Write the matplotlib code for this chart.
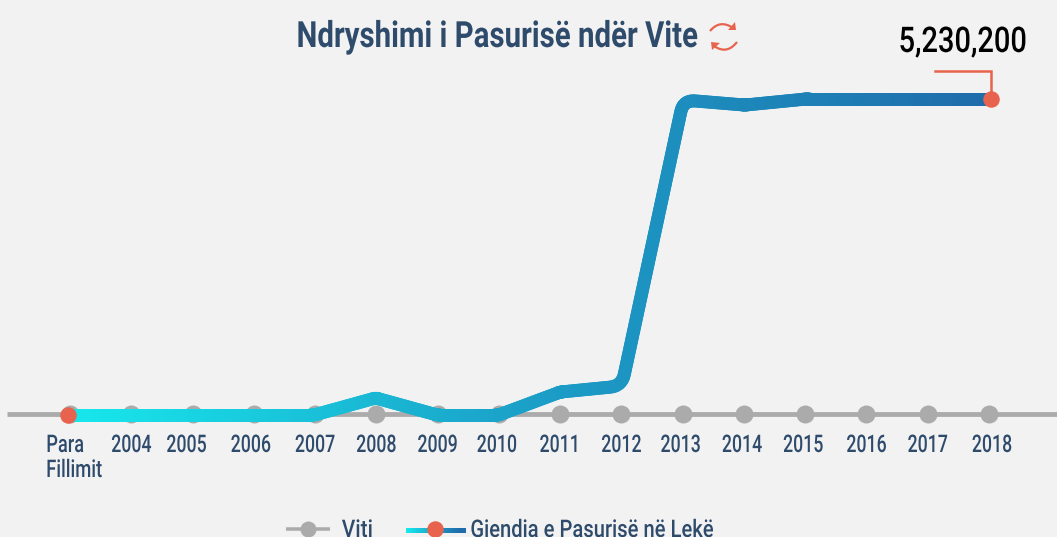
import numpy as np
import matplotlib
matplotlib.use('Agg')
import matplotlib.pyplot as plt
from matplotlib.collections import LineCollection
from matplotlib.colors import LinearSegmentedColormap
from matplotlib.patches import PathPatch, Polygon
from matplotlib.path import Path
from matplotlib.patheffects import AbstractPathEffect
from matplotlib.transforms import Affine2D

# data
labels = ['Para\nFillimit', '2004', '2005', '2006', '2007', '2008', '2009', '2010',
          '2011', '2012', '2013', '2014', '2015', '2016', '2017', '2018']
viti = [0] * 16
pasuria = [0, 0, 0, 0, 0, 282000, 0, 0, 380000, 480000, 5214000, 5130000,
           5230200, 5230200, 5230200, 5230200]
top_label = '5,230,200'

W, H = 1057, 537
BG = '#F2F2F2'
NAVY = '#2F4B6C'
RED = '#E8634D'
GRAY = '#ABABAB'
grad = LinearSegmentedColormap.from_list('g', ['#17E8EC', '#1BA0C8', '#1F6CAB'])
FONT = ['Roboto', 'DejaVu Sans']


# no condensed font here, so squeeze the glyphs around the middle of the text
class Narrow(AbstractPathEffect):
    def __init__(self, f):
        super().__init__()
        self.f = f

    def draw_path(self, renderer, gc, tpath, affine, rgbFace=None):
        e = tpath.get_extents()
        mid = (e.x0 + e.x1) / 2
        squeeze = Affine2D().translate(-mid, 0).scale(self.f, 1).translate(mid, 0)
        renderer.draw_path(gc, tpath, squeeze + affine, rgbFace)


def px(n):
    return n * 72 / 100


fig = plt.figure(figsize=(W / 100, H / 100), dpi=100, facecolor=BG)

# grey series, x: 0 -> 70px, 15 -> 989px, y: 0 -> 413.7px
gx = np.arange(16)
ax = fig.add_axes([0, 0, 1, 1])
sx = (989 - 70) / 15
ax.set_xlim(-70 / sx, (W - 70) / sx)
ax.set_ylim(-(H - 413.7), 413.7)
ax.axis('off')
ax.plot([(7 - 70) / sx, (W - 70) / sx], [0, 0], color=GRAY, lw=px(4.8), solid_capstyle='butt')
ax.scatter(gx, viti, s=px(18) ** 2, color=GRAY, linewidths=0, zorder=3)

# money series on its own scale, 0 -> (68, 415), max -> (991, 99)
ax2 = fig.add_axes([0, 0, 1, 1])
ax2.patch.set_alpha(0)
ax2.axis('off')
sx2 = (991 - 68) / 15
sy2 = (415 - 99) / 5230200
ax2.set_xlim(-68 / sx2, (W - 68) / sx2)
ax2.set_ylim(-(H - 415) / sy2, 415 / sy2)

# round the two sharp corners and cut the line in pieces for the gradient
pts = ax2.transData.transform(np.column_stack([gx, pasuria]))
path = [pts[0]]
for a, b, c in zip(pts[:-2], pts[1:-1], pts[2:]):
    d1, d2 = a - b, c - b
    sharp = np.dot(d1, d2) / (np.hypot(*d1) * np.hypot(*d2) + 1e-9) > -0.5
    cut = 12 if sharp else 3
    cut = min(cut, np.hypot(*d1) / 2, np.hypot(*d2) / 2)
    p1 = b + d1 / np.hypot(*d1) * cut
    p2 = b + d2 / np.hypot(*d2) * cut
    for t in np.linspace(0, 1, 10):
        path.append((1 - t) ** 2 * p1 + 2 * t * (1 - t) * b + t ** 2 * p2)
path.append(pts[-1])
path = np.array(path)
fine = [path[0]]
for p, q in zip(path[:-1], path[1:]):
    n = max(1, int(np.hypot(*(q - p)) / 3))
    for t in np.linspace(0, 1, n + 1)[1:]:
        fine.append(p + (q - p) * t)
fine = ax2.transData.inverted().transform(np.array(fine))
segs = np.stack([fine[:-1], fine[1:]], axis=1)
lc = LineCollection(segs, cmap=grad, linewidths=px(13), capstyle='round', joinstyle='round')
lc.set_array(segs[:, 0, 0])
ax2.add_collection(lc)
ax2.scatter([gx[0], gx[-1]], [pasuria[0], pasuria[-1]], s=px(16.5) ** 2, color=RED,
            linewidths=0, zorder=5)

# overlay in pixels for the text and furniture
pix = fig.add_axes([0, 0, 1, 1])
pix.patch.set_alpha(0)
pix.set_xlim(0, W)
pix.set_ylim(H, 0)
pix.axis('off')


def label(xc, y, s, f, size=17.5, color=NAVY, weight='medium'):
    t = pix.text(xc, y, s, family=FONT, fontsize=size, color=color, ha='center',
                 va='baseline', weight=weight)
    t.set_path_effects([Narrow(f)])
    return t


label(497.5, 47, 'Ndryshimi i Pasurisë ndër Vite', 0.815, size=26, weight='bold')

# refresh icon
Q = [Path.MOVETO, Path.CURVE3, Path.CURVE3]
pix.add_patch(PathPatch(Path([[710, 31], [720, 19], [733, 28]], Q), fc='none', ec=RED, lw=1.6))
pix.add_patch(PathPatch(Path([[737, 42], [727, 55], [714, 46]], Q), fc='none', ec=RED, lw=1.6))
pix.add_patch(Polygon([[728, 30], [736, 30], [735, 22]], color=RED, lw=0))
pix.add_patch(Polygon([[711, 42], [720, 43], [712, 50]], color=RED, lw=0))

# callout
pix.plot([935, 991, 991], [71, 71, 99], color=RED, lw=px(2.5), solid_joinstyle='miter', zorder=4)
label(962.5, 52, top_label, 0.82, size=25.5, color='black')

# tick labels, a few sit off centre in the original
off = [0, 0, -6, -3, 0, 0, 0, -2, 0, 0, -2, -2, -2, 0, 0, 3]
for i, (lab, o) in enumerate(zip(labels, off)):
    if i == 0:
        line1, line2 = lab.split('\n')
        label(65, 452, line1, 0.75)
        label(74, 477, line2, 0.76)
    else:
        label(70 + i * sx + o, 452, lab, 0.73)

# legend, cut off by the bottom edge as in the original
pix.plot([286, 330], [529, 529], color=GRAY, lw=px(3.5), solid_capstyle='butt')
pix.scatter([308], [529], s=px(16) ** 2, color=GRAY, linewidths=0)
label(357.5, 537, 'Viti', 0.86)
xs = np.linspace(408, 463, 40)
leg = LineCollection(np.stack([np.column_stack([xs[:-1], [530] * 39]),
                               np.column_stack([xs[1:], [530] * 39])], axis=1),
                     cmap=grad, linewidths=px(5), capstyle='projecting')
leg.set_array(xs[:-1])
pix.add_collection(leg)
pix.scatter([435], [529], s=px(16.5) ** 2, color=RED, linewidths=0, zorder=5)
label(591.5, 537, 'Gjendja e Pasurisë në Lekë', 0.83)

fig.savefig('out.png', dpi=100, facecolor=BG)
